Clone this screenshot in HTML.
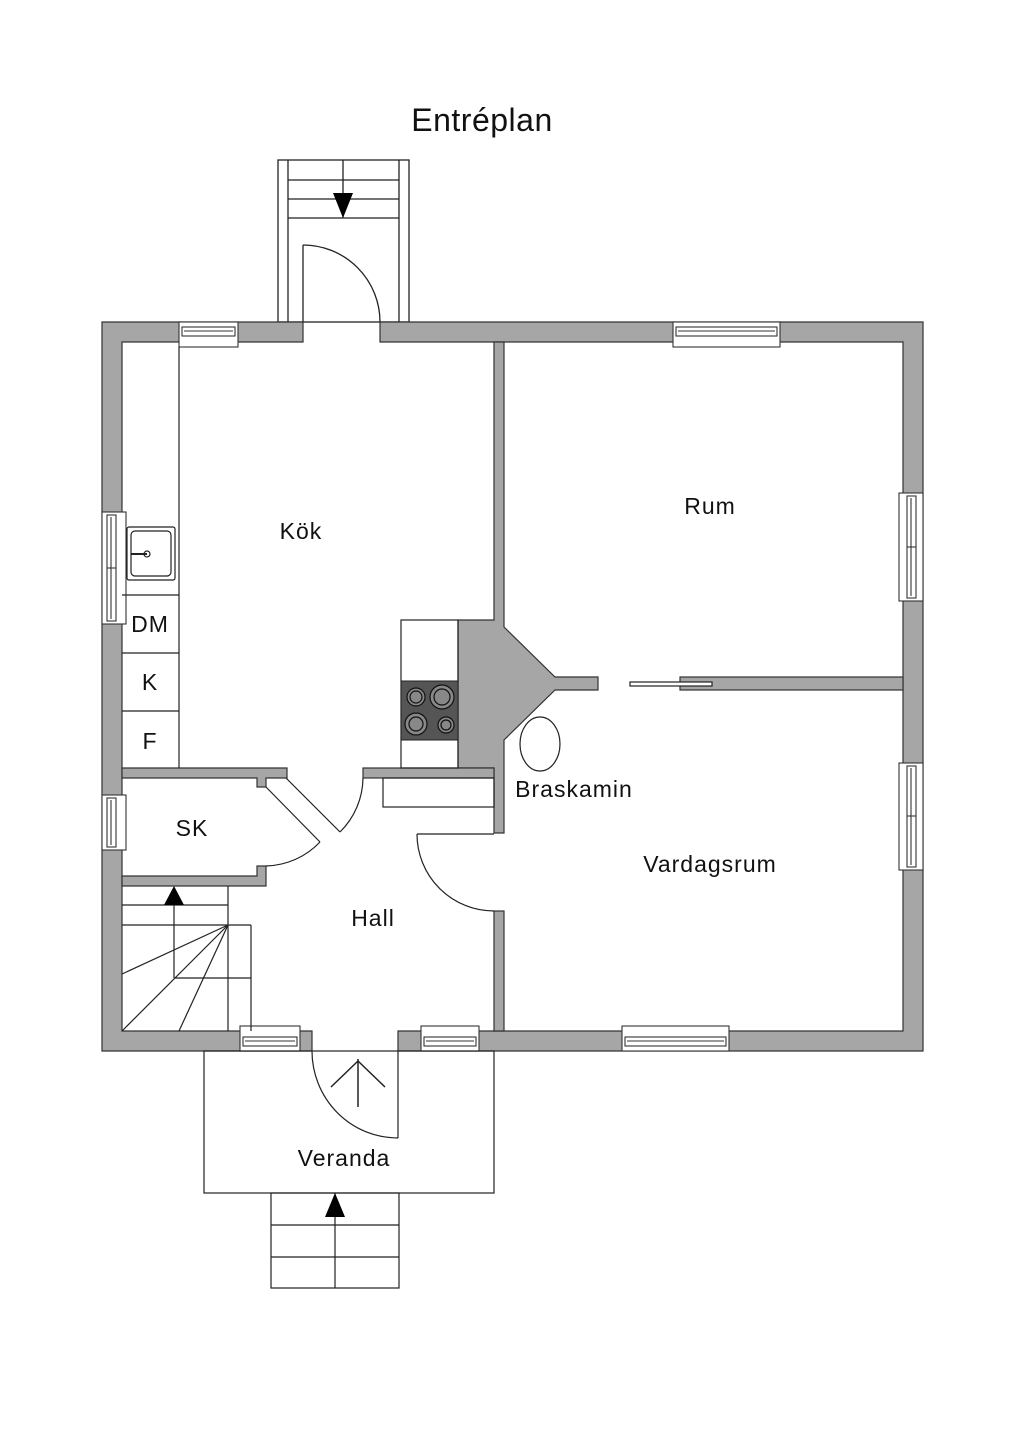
<!DOCTYPE html>
<html><head><meta charset="utf-8"><style>
html,body{margin:0;padding:0;background:#fff;}
svg{display:block;}
text{font-family:"Liberation Sans",sans-serif;fill:#111;}
</style></head><body>
<svg width="1024" height="1448" viewBox="0 0 1024 1448" xmlns="http://www.w3.org/2000/svg">
<rect width="1024" height="1448" fill="#fff"/>
<text x="482" y="131" font-size="32" text-anchor="middle" letter-spacing="0.5">Entréplan</text>

<g fill="none" stroke="#222" stroke-width="1.3">
<rect x="278" y="160" width="131" height="162"/>
<line x1="288" y1="160" x2="288" y2="322"/><line x1="399" y1="160" x2="399" y2="322"/>
<line x1="288" y1="180" x2="399" y2="180"/><line x1="288" y1="199" x2="399" y2="199"/><line x1="288" y1="218" x2="399" y2="218"/>
<line x1="343" y1="160" x2="343" y2="218"/>
<line x1="303" y1="245" x2="303" y2="322"/>
<path d="M303 245 A77 77 0 0 1 380 322"/>
</g>
<polygon points="333,193 353,193 343,218" fill="#000"/>

<g fill="#a6a6a6" stroke="#333" stroke-width="1.2">
<path d="M102 322 H303 V342 H122 V1031 H312 V1051 H102 Z"/>
<path d="M380 322 H923 V1051 H398 V1031 H903 V342 H380 Z"/>
<path d="M494 342 H504 V627 L555 677 H598 V690 H555 L504 740 V833 H494 V768 H458 V620 H494 Z"/>
<rect x="494" y="911" width="10" height="120"/>
<path d="M122 768 H287 V778 H266 V787 H257 V778 H122 Z"/>
<rect x="363" y="768" width="131" height="10"/>
<path d="M122 876 H257 V866 H266 V886 H122 Z"/>
<rect x="680" y="677" width="223" height="13"/>
</g>

<g fill="#fff" stroke="#333" stroke-width="1.1">
<rect x="179" y="322" width="59" height="25"/><rect x="182" y="327" width="53" height="9"/><line x1="184" y1="331" x2="233" y2="331"/>
<rect x="673" y="322" width="107" height="25"/><rect x="676" y="327" width="101" height="9"/><line x1="678" y1="331" x2="775" y2="331"/>
<rect x="240" y="1026" width="60" height="25"/><rect x="243" y="1037" width="54" height="9"/><line x1="245" y1="1041" x2="295" y2="1041"/>
<rect x="421" y="1026" width="58" height="25"/><rect x="424" y="1037" width="52" height="9"/><line x1="426" y1="1041" x2="474" y2="1041"/>
<rect x="622" y="1026" width="107" height="25"/><rect x="625" y="1037" width="101" height="9"/><line x1="627" y1="1041" x2="724" y2="1041"/>
<rect x="102" y="512" width="24" height="112"/><rect x="107" y="515" width="9" height="106"/><line x1="111" y1="517" x2="111" y2="619"/><line x1="107" y1="568" x2="116" y2="568"/>
<rect x="102" y="795" width="24" height="55"/><rect x="107" y="798" width="9" height="49"/><line x1="111" y1="800" x2="111" y2="845"/>
<rect x="899" y="493" width="24" height="108"/><rect x="907" y="496" width="9" height="102"/><line x1="911" y1="498" x2="911" y2="596"/><line x1="907" y1="547" x2="916" y2="547"/>
<rect x="899" y="763" width="24" height="107"/><rect x="907" y="766" width="9" height="101"/><line x1="911" y1="768" x2="911" y2="865"/><line x1="907" y1="816" x2="916" y2="816"/>
</g>

<g fill="none" stroke="#222" stroke-width="1.2">
<line x1="179" y1="347" x2="179" y2="768"/>
<line x1="122" y1="595" x2="179" y2="595"/><line x1="122" y1="653" x2="179" y2="653"/><line x1="122" y1="711" x2="179" y2="711"/>
<rect x="127" y="527" width="48" height="53" rx="2"/><rect x="131" y="531" width="40" height="45" rx="4"/>
<line x1="131" y1="554" x2="147" y2="554" stroke-width="2"/><circle cx="147" cy="554" r="3"/>
<rect x="401" y="620" width="57" height="148"/>
<rect x="383" y="778" width="111" height="29"/>
<ellipse cx="540" cy="744" rx="20" ry="27"/>
<rect x="630" y="682" width="82" height="4" fill="#fff"/>
<line x1="286" y1="778" x2="340" y2="832"/>
<path d="M363 778 A77 77 0 0 1 340 832"/>
<line x1="266" y1="787" x2="320" y2="842"/>
<path d="M320 842 A77 77 0 0 1 266 866"/>
<line x1="417" y1="834" x2="494" y2="834"/>
<path d="M417 834 A77 77 0 0 0 494 911"/>
<line x1="122" y1="905" x2="228" y2="905"/>
<line x1="122" y1="925" x2="251" y2="925"/>
<line x1="228" y1="886" x2="228" y2="1031"/>
<line x1="251" y1="925" x2="251" y2="1031"/>
<line x1="175" y1="978" x2="251" y2="978"/>
<line x1="174" y1="905" x2="174" y2="978"/>
<line x1="228" y1="925" x2="122" y2="974"/>
<line x1="228" y1="925" x2="122" y2="1031"/>
<line x1="228" y1="925" x2="179" y2="1031"/>
<rect x="204" y="1051" width="290" height="142"/>
<line x1="398" y1="1051" x2="398" y2="1138"/>
<path d="M312 1051 A86 87 0 0 0 398 1138"/>
<line x1="358" y1="1059" x2="358" y2="1107" stroke-width="1.5"/>
<polyline points="331,1087 358,1061 385,1087" stroke-width="1.5"/>
<rect x="271" y="1193" width="128" height="95"/>
<line x1="271" y1="1225" x2="399" y2="1225"/><line x1="271" y1="1257" x2="399" y2="1257"/>
<line x1="335" y1="1193" x2="335" y2="1288"/>
</g>
<polygon points="164,905 184,905 174,886" fill="#000"/>
<polygon points="325,1217 345,1217 335,1193" fill="#000"/>

<rect x="401" y="681" width="57" height="59" fill="#555" stroke="#222"/>
<g fill="#888" stroke="#111" stroke-width="1.2">
<circle cx="416" cy="697" r="9"/><circle cx="416" cy="697" r="6"/>
<circle cx="442" cy="697" r="12"/><circle cx="442" cy="697" r="8"/>
<circle cx="416" cy="724" r="11"/><circle cx="416" cy="724" r="7"/>
<circle cx="446" cy="725" r="8"/><circle cx="446" cy="725" r="5"/>
</g>

<g font-size="23" text-anchor="middle" letter-spacing="1">
<text x="301" y="539">Kök</text>
<text x="710" y="514">Rum</text>
<text x="574" y="797">Braskamin</text>
<text x="710" y="872">Vardagsrum</text>
<text x="192" y="836">SK</text>
<text x="373" y="926">Hall</text>
<text x="344" y="1166">Veranda</text>
<text x="150" y="632">DM</text>
<text x="150" y="690">K</text>
<text x="150" y="749">F</text>
</g>
</svg>
</body></html>
